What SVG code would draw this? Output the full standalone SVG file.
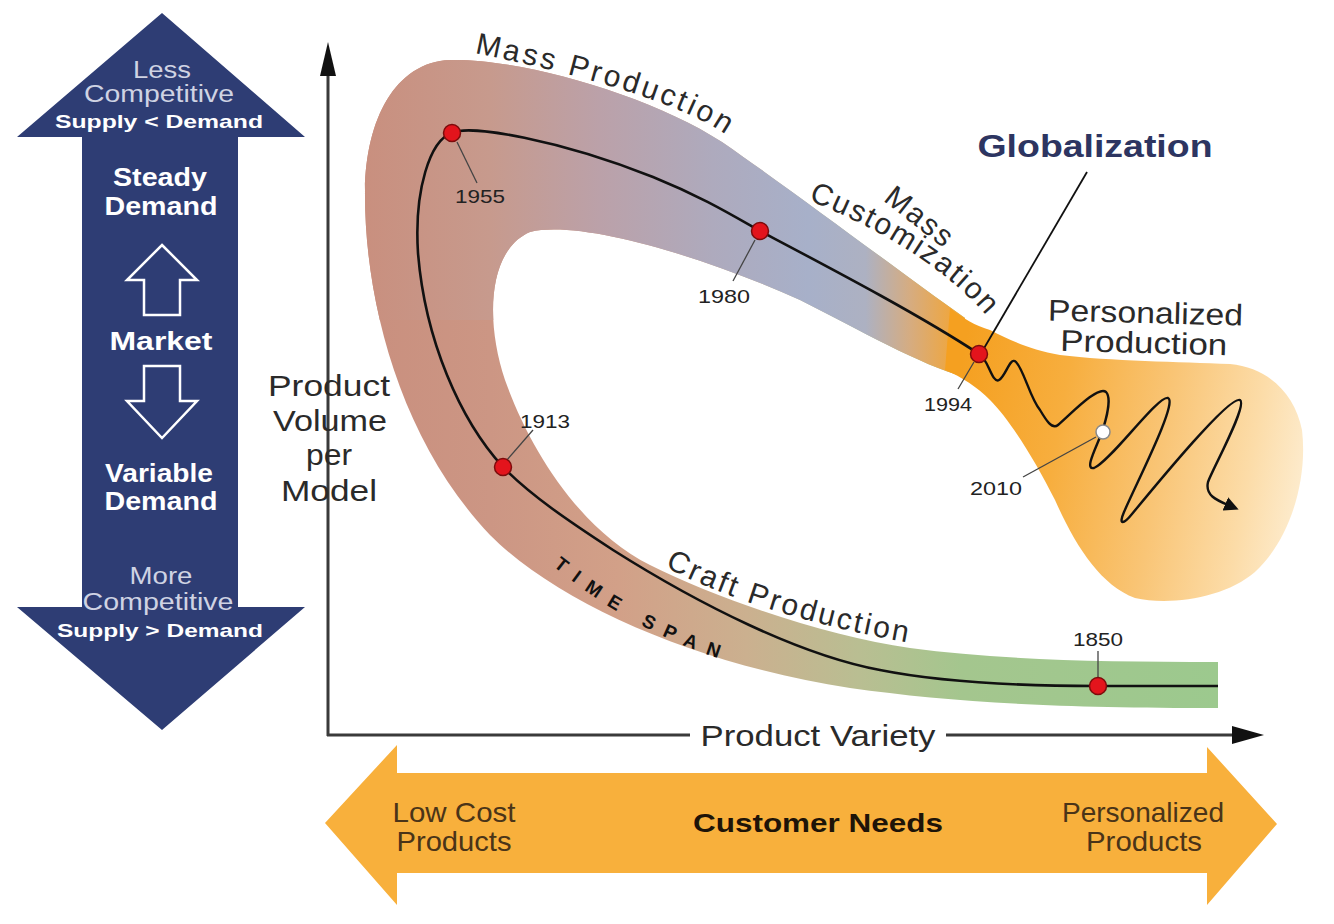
<svg xmlns="http://www.w3.org/2000/svg" width="1334" height="924" viewBox="0 0 1334 924">
<style>
text{font-family:"Liberation Sans",Arial,Helvetica,sans-serif}
.lt{fill:#cfd3e3;font-size:23px}
.wb{fill:#ffffff;font-weight:bold}
.dk{fill:#2a2a2a;font-size:30px}
.yr{fill:#222;font-size:19px;text-anchor:middle}
.br{fill:#4a3418;font-size:28px;text-anchor:middle}
.ldr{stroke:#444;stroke-width:1.3;fill:none}
.dot{fill:#e3141c;stroke:#7d0c0c;stroke-width:1.5}
.ax{stroke:#3a3a3a;stroke-width:3;fill:none}
.mid{text-anchor:middle}
</style>
<defs>
<linearGradient id="gUp" gradientUnits="userSpaceOnUse" x1="360" y1="0" x2="1000" y2="0">
<stop offset="0" stop-color="#c98f7e"/>
<stop offset="0.203" stop-color="#c79a8d"/>
<stop offset="0.375" stop-color="#bba1a9"/>
<stop offset="0.55" stop-color="#aeaabd"/>
<stop offset="0.7" stop-color="#a7b0c9"/>
<stop offset="0.79" stop-color="#adb1c2"/>
<stop offset="0.86" stop-color="#d6ac80"/>
<stop offset="0.93" stop-color="#f1a63a"/>
<stop offset="1" stop-color="#f5a020"/>
</linearGradient>
<linearGradient id="gLow" gradientUnits="userSpaceOnUse" x1="360" y1="0" x2="1220" y2="0">
<stop offset="0" stop-color="#c98f7e"/>
<stop offset="0.151" stop-color="#cc9684"/>
<stop offset="0.3" stop-color="#d2a088"/>
<stop offset="0.45" stop-color="#cbb08f"/>
<stop offset="0.58" stop-color="#b9be92"/>
<stop offset="0.7" stop-color="#a4c68e"/>
<stop offset="1" stop-color="#9cc98e"/>
</linearGradient>
<linearGradient id="gFlare" gradientUnits="userSpaceOnUse" x1="955" y1="400" x2="1305" y2="460">
<stop offset="0" stop-color="#f5a020"/>
<stop offset="0.3" stop-color="#f7ae3e"/>
<stop offset="0.6" stop-color="#f9c576"/>
<stop offset="0.85" stop-color="#fcdca8"/>
<stop offset="1" stop-color="#fdebcc"/>
</linearGradient>
<clipPath id="clipUp">
<polygon points="0,0 1334,0 1334,480 600,480 520,320 0,320"/>
</clipPath>
<path id="bandPath" d="M 965 318 C 900 272, 800 196, 722 142 C 650 95, 520 58, 450 60 C 395 62, 366 120, 365 190 C 364 300, 400 440, 490 535 C 560 605, 700 665, 850 688 C 950 702, 1050 708, 1218 708 L 1218 662 C 1100 662, 1000 660, 910 648 C 830 637, 720 600, 650 565 C 580 530, 530 450, 505 380 C 485 320, 488 250, 530 232 C 580 220, 700 255, 800 300 C 860 330, 920 365, 965 377 Z"/>
<path id="pMassProd" d="M 474 53 Q 656 90 722 132"/>
<path id="pCustom" d="M 808 200 Q 932 250 990 320"/>
<path id="pCraft" d="M 665 567 Q 757 615 910 643"/>
<path id="pTime" d="M 553 566 Q 640 638 750 668"/>
<marker id="arr" viewBox="0 0 10 10" refX="2" refY="5" markerWidth="6" markerHeight="6" orient="auto" markerUnits="strokeWidth">
<path d="M0,0 L10,5 L0,10 z" fill="#111"/>
</marker>
</defs>
<rect width="1334" height="924" fill="#ffffff"/>

<g id="market-arrow">
<polygon points="162,13 305,137 238,137 238,607 305,607 162,730 17,607 82,607 82,137 17,137" fill="#2e3d74"/>
<text class="lt mid" x="162" y="78" textLength="58" lengthAdjust="spacingAndGlyphs">Less</text>
<text class="lt mid" x="159" y="102" textLength="150" lengthAdjust="spacingAndGlyphs">Competitive</text>
<text class="wb mid" x="159" y="128" font-size="19" textLength="208" lengthAdjust="spacingAndGlyphs">Supply &lt; Demand</text>
<text class="wb mid" x="160" y="186" font-size="25" fill="#eceef4" textLength="94" lengthAdjust="spacingAndGlyphs">Steady</text>
<text class="wb mid" x="161" y="215" font-size="25" fill="#eceef4" textLength="113" lengthAdjust="spacingAndGlyphs">Demand</text>
<polygon points="162,245 197,280 180,280 180,315 144,315 144,280 127,280" fill="none" stroke="#ffffff" stroke-width="2.5" stroke-linejoin="miter"/>
<text class="wb mid" x="161" y="350" font-size="25" textLength="103" lengthAdjust="spacingAndGlyphs">Market</text>
<polygon points="144,366 180,366 180,401 197,401 162,438 127,401 144,401" fill="none" stroke="#ffffff" stroke-width="2.5" stroke-linejoin="miter"/>
<text class="wb mid" x="159" y="482" font-size="25" fill="#eceef4" textLength="108" lengthAdjust="spacingAndGlyphs">Variable</text>
<text class="wb mid" x="161" y="510" font-size="25" fill="#eceef4" textLength="113" lengthAdjust="spacingAndGlyphs">Demand</text>
<text class="lt mid" x="161" y="584" textLength="63" lengthAdjust="spacingAndGlyphs">More</text>
<text class="lt mid" x="158" y="610" textLength="151" lengthAdjust="spacingAndGlyphs">Competitive</text>
<text class="wb mid" x="160" y="637" font-size="19" textLength="206" lengthAdjust="spacingAndGlyphs">Supply &gt; Demand</text>
</g>

<g id="customer-needs">
<polygon points="325,823 397,745 397,773 1207,773 1207,747 1277,824 1207,905 1207,873 397,873 397,905" fill="#f8b03c"/>
<text class="br" x="454" y="822" textLength="123" lengthAdjust="spacingAndGlyphs">Low Cost</text>
<text class="br" x="454" y="851" textLength="115" lengthAdjust="spacingAndGlyphs">Products</text>
<text class="mid" x="818" y="832" font-size="26" font-weight="bold" fill="#1e1408" textLength="250" lengthAdjust="spacingAndGlyphs">Customer Needs</text>
<text class="br" x="1143" y="822" textLength="162" lengthAdjust="spacingAndGlyphs">Personalized</text>
<text class="br" x="1144" y="851" textLength="116" lengthAdjust="spacingAndGlyphs">Products</text>
</g>

<g id="band">
<use href="#bandPath" fill="url(#gLow)"/>
<use href="#bandPath" fill="url(#gUp)" clip-path="url(#clipUp)"/>
<path d="M 950 308 C 962 318, 976 326, 990 330 C 1010 340, 1030 350, 1060 355 C 1110 361, 1180 362, 1230 364 C 1270 368, 1295 395, 1302 430 C 1308 480, 1290 540, 1255 572 C 1225 598, 1170 606, 1135 598 C 1100 585, 1075 545, 1055 500 C 1035 460, 1010 420, 990 400 C 977 387, 962 377, 945 370 Z" fill="url(#gFlare)"/>
</g>

<g id="axes">
<line class="ax" x1="328" y1="736" x2="328" y2="74" stroke="#111" stroke-width="2.5"/>
<polygon points="320,76 328,42 336,76" fill="#111"/>
<line class="ax" x1="327" y1="735" x2="690" y2="735"/>
<line class="ax" x1="946" y1="735" x2="1234" y2="735"/>
<polygon points="1232,726 1264,735 1232,744" fill="#111"/>
<text class="dk mid" x="818" y="746" textLength="235" lengthAdjust="spacingAndGlyphs">Product Variety</text>
<text class="dk mid" x="329" y="396" textLength="122" lengthAdjust="spacingAndGlyphs">Product</text>
<text class="dk mid" x="330" y="431" textLength="114" lengthAdjust="spacingAndGlyphs">Volume</text>
<text class="dk mid" x="329" y="465" textLength="46" lengthAdjust="spacingAndGlyphs">per</text>
<text class="dk mid" x="329" y="501" textLength="96" lengthAdjust="spacingAndGlyphs">Model</text>
</g>

<g id="labels">
<text class="dk" letter-spacing="3"><textPath href="#pMassProd">Mass Production</textPath></text>
<text class="dk" letter-spacing="2"><textPath href="#pCustom">Customization</textPath></text>
<text class="dk mid" letter-spacing="2" transform="translate(920,217) rotate(38)" x="0" y="10">Mass</text>
<text class="dk" letter-spacing="2.5"><textPath href="#pCraft">Craft Production</textPath></text>
<text font-size="19" font-weight="bold" fill="#111" letter-spacing="11"><textPath href="#pTime">TIME SPAN</textPath></text>
<text class="mid" x="1095" y="157" font-size="32" font-weight="bold" fill="#2d3561" textLength="235" lengthAdjust="spacingAndGlyphs">Globalization</text>
<g transform="rotate(1.5 1145 335)">
<text class="dk mid" x="1145" y="323" font-size="31" textLength="195" lengthAdjust="spacingAndGlyphs">Personalized</text>
<text class="dk mid" x="1144" y="353" font-size="31" textLength="167" lengthAdjust="spacingAndGlyphs">Production</text>
</g>
</g>

<g id="connectors">
<path d="M 1218 686 L 1098 686 C 1000 686, 930 680, 880 670 C 800 655, 700 605, 613 550 C 570 522, 530 495, 503 467 C 460 420, 425 340, 418 253 C 414 190, 430 140, 452 133 C 470 124, 560 140, 653 177 C 700 196, 730 214, 760 231 C 830 268, 920 315, 979 354" fill="none" stroke="#111" stroke-width="2.6"/>
<path d="M 979 354 C 988 358, 992 384, 999 380 C 1006 376, 1010 356, 1016 362 C 1024 370, 1030 398, 1040 410 C 1046 420, 1052 430, 1058 425 C 1070 415, 1098 385, 1106 392 C 1112 398, 1106 420, 1102 432 C 1096 448, 1084 470, 1094 468 C 1110 462, 1158 395, 1168 398 C 1178 402, 1138 480, 1124 512 C 1118 526, 1124 524, 1132 514 C 1160 480, 1230 395, 1240 400 C 1248 405, 1212 470, 1208 482 C 1205 495, 1216 500, 1228 505" fill="none" stroke="#111" stroke-width="2.4" marker-end="url(#arr)"/>
<line x1="1087" y1="172" x2="983" y2="350" stroke="#111" stroke-width="1.8"/>
<line class="ldr" x1="457" y1="142" x2="477" y2="183"/>
<line class="ldr" x1="755" y1="240" x2="733" y2="281"/>
<line class="ldr" x1="507" y1="460" x2="533" y2="430"/>
<line class="ldr" x1="974" y1="362" x2="958" y2="389"/>
<line class="ldr" x1="1096" y1="437" x2="1023" y2="477"/>
<line class="ldr" x1="1098" y1="680" x2="1098" y2="651"/>
</g>

<g id="node-1955"><circle class="dot" cx="452" cy="133" r="8.5"/><text class="yr" x="480" y="203" textLength="50" lengthAdjust="spacingAndGlyphs">1955</text></g>
<g id="node-1980"><circle class="dot" cx="760" cy="231" r="8.5"/><text class="yr" x="724" y="303" textLength="52" lengthAdjust="spacingAndGlyphs">1980</text></g>
<g id="node-1994"><circle class="dot" cx="979" cy="354" r="8.5"/><text class="yr" x="948" y="411" textLength="48" lengthAdjust="spacingAndGlyphs">1994</text></g>
<g id="node-1913"><circle class="dot" cx="503" cy="467" r="8.5"/><text class="yr" x="545" y="428" textLength="50" lengthAdjust="spacingAndGlyphs">1913</text></g>
<g id="node-1850"><circle class="dot" cx="1098" cy="686" r="8.5"/><text class="yr" x="1098" y="646" textLength="50" lengthAdjust="spacingAndGlyphs">1850</text></g>
<g id="node-2010"><circle cx="1103" cy="432" r="7" fill="#ffffff" stroke="#8a8a8a" stroke-width="1.5"/><text class="yr" x="996" y="495" textLength="52" lengthAdjust="spacingAndGlyphs">2010</text></g>
</svg>
